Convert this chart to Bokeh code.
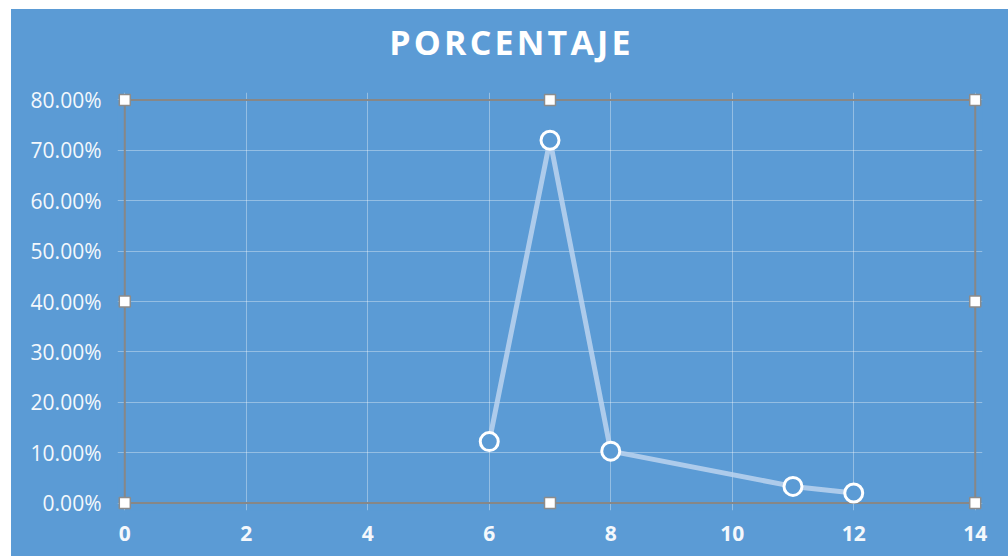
from bokeh.plotting import figure
from bokeh.layouts import column
from bokeh.models import Range1d, NumeralTickFormatter, FixedTicker, ColumnDataSource, Div
from bokeh.embed import file_html
from bokeh.resources import INLINE

# data
x_vals = [6, 7, 8, 11, 12]
pct_vals = [0.122, 0.720, 0.103, 0.033, 0.020]
title_text = "PORCENTAJE"
x_ticks = [0, 2, 4, 6, 8, 10, 12, 14]
y_ticks = [0.0, 0.1, 0.2, 0.3, 0.4, 0.5, 0.6, 0.7, 0.8]

BG = "#5B9BD5"
x0, x1 = 0, 14
y0, y1 = 0.0, 0.8
padx, pady = 0.12, 0.0148   # small padding so that the corner handles are not clipped

title_div = Div(text=title_text, width=997, height=60, margin=0,
                styles={"background-color": BG, "color": "white", "font-family": "Open Sans",
                        "font-weight": "bold", "font-size": "34px", "letter-spacing": "3.2px",
                        "text-align": "center", "padding-top": "9px", "padding-left": "4px",
                        "box-sizing": "border-box"})

p = figure(width=997, height=487, output_backend="svg", toolbar_location=None,
           title_location=None, margin=0,
           x_range=Range1d(x0 - padx, x1 + padx), y_range=Range1d(y0 - pady, y1 + pady),
           background_fill_color=BG, border_fill_color=BG,
           min_border_left=106, min_border_right=26, min_border_top=23, min_border_bottom=46)
p.outline_line_color = None

p.xaxis.ticker = FixedTicker(ticks=x_ticks)
p.yaxis.ticker = FixedTicker(ticks=y_ticks)
p.yaxis.formatter = NumeralTickFormatter(format="0.00%")
for ax in (p.xaxis[0], p.yaxis[0]):
    ax.axis_line_color = None
    ax.major_tick_line_color = None
    ax.minor_tick_line_color = None
    ax.major_tick_out = 0
    ax.major_tick_in = 0
    ax.major_label_text_color = "#F4F8FC"
    ax.major_label_text_font = "Open Sans"
p.yaxis.major_label_text_font_size = "21px"
p.xaxis.major_label_text_font_size = "21px"
p.yaxis.major_label_standoff = 16
p.xaxis.major_label_standoff = 15
p.xaxis.major_label_text_font_style = "bold"

for g in (p.xgrid[0], p.ygrid[0]):
    g.grid_line_color = "white"
    g.grid_line_alpha = 0.35
p.xgrid.bounds = (y0, y1)
p.ygrid.bounds = (x0, x1)

# plot-area border
p.quad(left=[x0], right=[x1], bottom=[y0], top=[y1], fill_color=None,
       line_color="#878787", line_width=2)

src = ColumnDataSource(dict(x=x_vals, y=pct_vals))
p.line("x", "y", source=src, line_color="#BCD4EE", line_alpha=0.85, line_width=5)
p.scatter("x", "y", source=src, size=18, fill_color=BG, line_color="white", line_width=3)

# selection handles of the plot area
xm = (x0 + x1) / 2
ym = (y0 + y1) / 2
hx = [x0, x0, x0, xm, x1, x1, x1, xm]
hy = [y0, ym, y1, y1, y1, ym, y0, y0]
p.scatter(hx, hy, marker="square", size=11, fill_color="white", line_color="#8C8C8C", line_width=1.5)

layout = column(title_div, p, spacing=0, margin=0,
                styles={"margin-left": "11px", "margin-top": "9px", "background-color": BG})

open("out.html", "w").write(file_html(layout, INLINE))
